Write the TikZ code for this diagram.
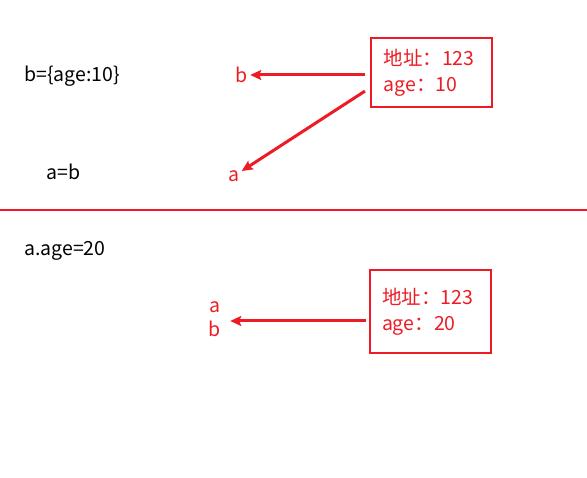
\documentclass[tikz,border=0pt]{standalone}
\usepackage{fontspec}
\setmainfont{Noto Sans CJK SC}
\usepackage{tikz}
\usetikzlibrary{arrows.meta, positioning}
\usepackage{xcolor}
\definecolor{myred}{RGB}{237, 28, 36}

\begin{document}
\begin{tikzpicture}[
            x=1pt, y=-1pt,
            font=\fontsize{19.5}{26}\selectfont,
            mem/.style={
                rectangle,
                draw=myred,
                line width=2pt,
                text=myred,
                text width=96pt,
                align=left,
                inner sep=6pt,
                minimum width=121pt,
                minimum height=69pt
            },
            code/.style={anchor=west, inner sep=0pt},
            var/.style={text=myred, inner sep=2pt, align=center,
                font=\fontsize{19.5}{24}\selectfont},
            ref/.style={-{Stealth[length=11pt, width=10pt, inset=2pt]}, draw=myred, line width=3pt}
        ]
            \useasboundingbox (0,0) rectangle (587,478);

            % Nodes
            \node[code] (defb) at (24,76) {b=\{age:10\}};
            \node[code] (assign) at (46,172) {a=b};
            \node[code] (setage) at (24,251) {a.age=20};

            \node[mem] (memtop) at (431.5,72.5) {地址：123\\age：10};
            \node[var] (vb) at (242,75) {b};
            \node[var] (va) at (234,176) {a};

            \node[mem, minimum height=83pt] (membot) at (430,311.5) {地址：123\\age：20};
            \node[var] (vab) at (215,319) {a\\b};

            % Divider
            \coordinate (divl) at (0,210);
            \coordinate (divr) at (587,210);
            \draw[myred, line width=1.5pt] (divl) -- (divr);

            % Arrows
            \draw[ref, shorten <=5pt] (memtop.west |- vb) -- (vb);
            \draw[ref, shorten <=6pt] (memtop.194) -- (va);
            \draw[ref, shorten <=3pt, shorten >=7pt] (membot.west |- 0,321) -- (vab.east |- 0,321);
        \end{tikzpicture}
\end{document}
